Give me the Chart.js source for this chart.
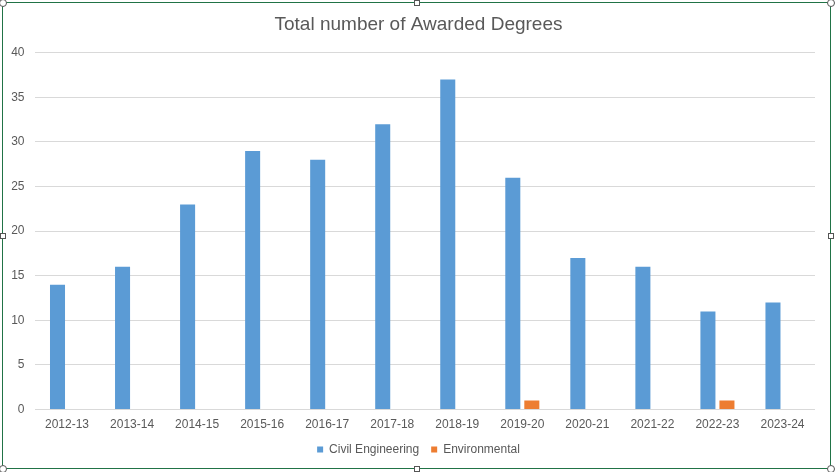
<!DOCTYPE html>
<html>
<head>
<meta charset="utf-8">
<script src="https://cdn.jsdelivr.net/npm/chart.js@4/dist/chart.umd.min.js"></script>
<style>
  html, body { margin: 0; padding: 0; background: #fff; }
  body { width: 835px; height: 472px; position: relative; overflow: hidden; font-family: "Liberation Sans", Arial, sans-serif; }
  #frame { position: absolute; left: 2px; top: 2px; width: 829px; height: 467px; border: 1.5px solid #217346; box-sizing: border-box; background: #fff; }
  #wrap { position: absolute; left: 0; top: 0; width: 826px; height: 464px; }
  .h { position: absolute; width: 6px; height: 6px; background: #fff; border: 1px solid #555; box-sizing: border-box; }
  .c { border-radius: 50%; width: 8px; height: 8px; }
</style>
</head>
<body>
<div id="frame"><div id="wrap"><canvas id="chart"></canvas></div></div>
<div class="h c" style="left:-1px;top:-1px"></div>
<div class="h c" style="left:827px;top:-1px"></div>
<div class="h c" style="left:-1px;top:465px"></div>
<div class="h c" style="left:827px;top:465px"></div>
<div class="h" style="left:414px;top:0px"></div>
<div class="h" style="left:414px;top:466px"></div>
<div class="h" style="left:0px;top:233px"></div>
<div class="h" style="left:828px;top:233px"></div>
<script>
const categories = ["2012-13","2013-14","2014-15","2015-16","2016-17","2017-18","2018-19","2019-20","2020-21","2021-22","2022-23","2023-24"];
const civilEngineering = [14,16,23,29,28,32,37,26,17,16,11,12];
const environmental = [null,null,null,null,null,null,null,1,null,null,1,null];
const yTicks = [0,5,10,15,20,25,30,35,40];

const textColor = '#595959';
const fontFamily = '"Liberation Sans", Arial, sans-serif';

new Chart(document.getElementById('chart'), {
  type: 'bar',
  data: {
    labels: categories,
    datasets: [
      { label: 'Civil Engineering', data: civilEngineering, backgroundColor: '#5b9bd5', categoryPercentage: 0.585, barPercentage: 0.79 },
      { label: 'Environmental', data: environmental, backgroundColor: '#ed7d31', categoryPercentage: 0.585, barPercentage: 0.79 }
    ]
  },
  options: {
    responsive: true,
    maintainAspectRatio: false,
    animation: false,
    layout: { padding: { left: 5, right: 0, top: 0, bottom: 1.5 } },
    plugins: {
      title: {
        display: true,
        text: 'Total number of Awarded Degrees',
        color: textColor,
        font: { family: fontFamily, size: 19, weight: 'normal' },
        padding: { top: 10.5, bottom: 16.5 }
      },
      legend: {
        position: 'bottom',
        labels: {
          color: textColor,
          font: { family: fontFamily, size: 12 },
          boxWidth: 6,
          boxHeight: 6,
          padding: 12
        }
      },
      tooltip: { enabled: false }
    },
    scales: {
      x: {
        afterFit: (axis) => { axis.height = 22; },
        grid: { display: false, drawTicks: false },
        border: { display: false },
        ticks: { color: textColor, font: { family: fontFamily, size: 12 }, maxRotation: 0, padding: 8 }
      },
      y: {
        min: 0, max: 40,
        afterFit: (axis) => { axis.width = 26.5; },
        afterBuildTicks: (axis) => { axis.ticks = yTicks.map(v => ({ value: v })); },
        grid: { color: '#d9d9d9', drawTicks: false },
        border: { display: false },
        ticks: { color: textColor, font: { family: fontFamily, size: 12 }, padding: 10 }
      },
      yRight: {
        position: 'right',
        min: 0, max: 40,
        afterFit: (axis) => { axis.width = 14; },
        grid: { display: false, drawTicks: false },
        border: { display: false },
        ticks: { display: false }
      }
    }
  }
});
</script>
</body>
</html>
